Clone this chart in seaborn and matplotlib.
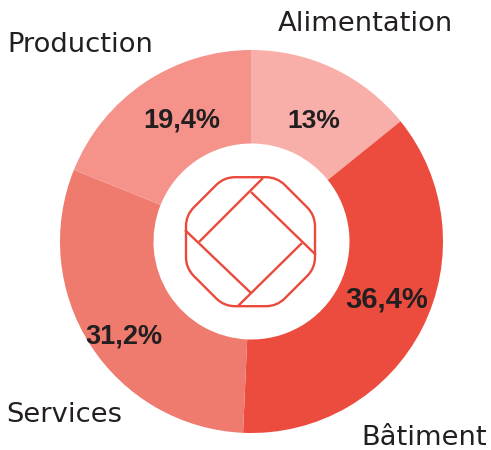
import matplotlib
matplotlib.use("Agg")
import matplotlib.pyplot as plt
import seaborn as sns
from matplotlib.patches import PathPatch
from matplotlib.path import Path

categories = ["Alimentation", "Bâtiment", "Services", "Production"]
arc_shares = [14.2, 36.5, 30.4, 18.9]
value_labels = ["13%", "36,4%", "31,2%", "19,4%"]
colors = ["#F9AFA9", "#EC4C3E", "#EF7A6E", "#F5938A"]

sns.set_theme(style="white")
fig = plt.figure(figsize=(4.91, 4.5), dpi=100)
W, H = 491, 450
ax = fig.add_axes([0, 0, 1, 1])
# the y axis is inverted below, so a rising angle from -90 runs clockwise from the top
ax.pie(arc_shares, colors=colors, startangle=-90, counterclock=True, radius=191.5,
       center=(251.5, 241.5), frame=True, wedgeprops=dict(width=93.5, edgecolor="none"))
ax.set_xlim(0, W); ax.set_ylim(H, 0); ax.set_aspect("auto"); ax.axis("off")

INK = "#231F20"
RED = "#EA4A3C"
for (x, y), t, fs in zip([(314, 121), (386.5, 299), (123.5, 336), (182, 121)], value_labels,
                         [19, 21, 19.5, 19.5]):
    ax.text(x, y, t, ha="center", va="center", fontsize=fs, fontweight="bold",
            family="Liberation Sans", color=INK)
for (x, y), t in zip([(365.5, 24), (424, 438), (64, 415.5), (80.5, 45.5)], categories):
    ax.text(x, y, t, ha="center", va="center", fontsize=19.7, family="DejaVu Sans", color=INK)

# logo: rounded octagon with four inner strokes
c, h, a, r = (250.5, 241.7), 64.5, 26.5, 11
pts = [(a, -h), (h, -a), (h, a), (a, h), (-a, h), (-h, a), (-h, -a), (-a, -h)]


def step(x0, y0, x1, y1):
    d = ((x1 - x0) ** 2 + (y1 - y0) ** 2) ** 0.5
    return x0 + (x1 - x0) * r / d, y0 + (y1 - y0) * r / d


verts, codes = [], []
for i, (x, y) in enumerate(pts):
    xp, yp = pts[i - 1]
    xn, yn = pts[(i + 1) % 8]
    verts += [step(x, y, xp, yp), (x, y), step(x, y, xn, yn)]
    codes += [Path.MOVETO if i == 0 else Path.LINETO, Path.CURVE3, Path.CURVE3]
verts.append(verts[0])
codes.append(Path.CLOSEPOLY)
verts = [(c[0] + x, c[1] + y) for x, y in verts]
ax.add_patch(PathPatch(Path(verts, codes), fc="white", ec=RED, lw=1.7))
for (x0, y0), (x1, y1) in [((263, 178), (199, 242)), ((251, 192), (316, 255)),
                           ((302, 243), (238, 306)), ((185, 230), (251, 293))]:
    ax.plot([x0, x1], [y0, y1], color=RED, lw=1.7, solid_capstyle="butt")
ax.set_xlim(0, W); ax.set_ylim(H, 0)
fig.savefig("out.png", dpi=100, facecolor="white")
